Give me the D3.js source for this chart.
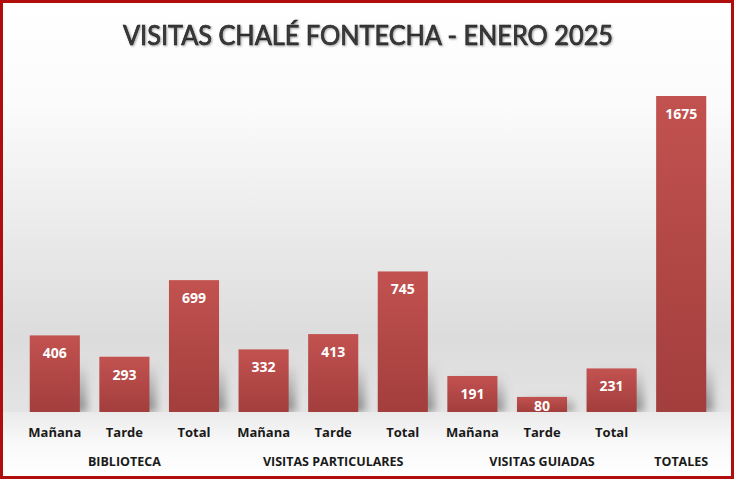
<!DOCTYPE html>
<html lang="es">
<head>
  <meta charset="UTF-8">
  <title>Visitas Chalé Fontecha - Enero 2025</title>
  <script src="https://d3js.org/d3.v7.min.js"></script>
  <style>
    body { margin: 0; background: #fff; }
    svg { display: block; }
  </style>
</head>
<body>
  <div id="chart"></div>
  <script>
    // Data
    const categories = ["Mañana", "Tarde", "Total", "Mañana", "Tarde", "Total", "Mañana", "Tarde", "Total", ""];
    const groups = ["BIBLIOTECA", "VISITAS PARTICULARES", "VISITAS GUIADAS", "TOTALES"];
    const groupOf = [0, 0, 0, 1, 1, 1, 2, 2, 2, 3];
    const values = [406, 293, 699, 332, 413, 745, 191, 80, 231, 1675];
    const title = "VISITAS CHALÉ FONTECHA - ENERO 2025";

    const W = 737, H = 482;
    const baseY = 412;

    const svg = d3.select("#chart").append("svg")
      .attr("width", W)
      .attr("height", H);

    const defs = svg.append("defs");

    // background gradient (wall)
    const wall = defs.append("linearGradient").attr("id", "wall")
      .attr("x1", 0).attr("y1", 0).attr("x2", 0).attr("y2", 1);
    wall.append("stop").attr("offset", "0%").attr("stop-color", "#ffffff");
    wall.append("stop").attr("offset", "25%").attr("stop-color", "#fbfbfb");
    wall.append("stop").attr("offset", "82%").attr("stop-color", "#dcdcdc");
    wall.append("stop").attr("offset", "100%").attr("stop-color", "#e4e4e4");

    // floor gradient
    const floor = defs.append("linearGradient").attr("id", "floor")
      .attr("x1", 0).attr("y1", 0).attr("x2", 0).attr("y2", 1);
    floor.append("stop").attr("offset", "0%").attr("stop-color", "#eaeaea");
    floor.append("stop").attr("offset", "45%").attr("stop-color", "#f8f8f8");
    floor.append("stop").attr("offset", "100%").attr("stop-color", "#ffffff");

    // bar gradient
    const barGrad = defs.append("linearGradient").attr("id", "barGrad")
      .attr("x1", 0).attr("y1", 0).attr("x2", 0).attr("y2", 1);
    barGrad.append("stop").attr("offset", "0%").attr("stop-color", "#c25250");
    barGrad.append("stop").attr("offset", "100%").attr("stop-color", "#a23e3c");

    // shadow fading upward
    const shadowGrad = defs.append("linearGradient").attr("id", "shadowGrad")
      .attr("x1", 0).attr("y1", 0).attr("x2", 0).attr("y2", 1);
    shadowGrad.append("stop").attr("offset", "0%").attr("stop-color", "#666").attr("stop-opacity", 0);
    shadowGrad.append("stop").attr("offset", "100%").attr("stop-color", "#666").attr("stop-opacity", 0.75);

    const blur = defs.append("filter").attr("id", "blur")
      .attr("x", "-50%").attr("y", "-50%").attr("width", "200%").attr("height", "200%");
    blur.append("feGaussianBlur").attr("stdDeviation", 4);

    const titleGlow = defs.append("filter").attr("id", "titleGlow");
    titleGlow.append("feDropShadow")
      .attr("dx", 1).attr("dy", 1).attr("stdDeviation", 0.8)
      .attr("flood-color", "#777").attr("flood-opacity", 0.7);

    // backgrounds
    svg.append("rect")
      .attr("x", 3).attr("y", 3).attr("width", 729).attr("height", baseY - 3)
      .attr("fill", "url(#wall)");
    svg.append("rect")
      .attr("x", 3).attr("y", baseY).attr("width", 729).attr("height", 476 - baseY)
      .attr("fill", "url(#floor)");

    // scales
    const x = d3.scaleBand()
      .domain(d3.range(values.length))
      .range([20, 716])
      .paddingInner(0.28)
      .paddingOuter(0.14);

    const y = d3.scaleLinear()
      .domain([0, 1800])
      .range([baseY, baseY - 1800 * (316 / 1675)]);

    // soft shadows behind bars, lower part only
    svg.append("g").selectAll("rect")
      .data(values)
      .enter().append("rect")
      .attr("x", (d, i) => x(i) + 7)
      .attr("y", d => Math.max(y(d), baseY - 50))
      .attr("width", x.bandwidth())
      .attr("height", d => baseY - Math.max(y(d), baseY - 50))
      .attr("fill", "url(#shadowGrad)")
      .attr("filter", "url(#blur)");

    // bars
    svg.append("g").selectAll("rect")
      .data(values)
      .enter().append("rect")
      .attr("x", (d, i) => x(i))
      .attr("y", d => y(d))
      .attr("width", x.bandwidth())
      .attr("height", d => y(0) - y(d))
      .attr("fill", "url(#barGrad)");

    // redraw floor strip so the shadow does not spill below the baseline
    svg.append("rect")
      .attr("x", 3).attr("y", baseY).attr("width", 729).attr("height", 476 - baseY)
      .attr("fill", "url(#floor)");

    // value labels
    svg.append("g").selectAll("text")
      .data(values)
      .enter().append("text")
      .attr("x", (d, i) => x(i) + x.bandwidth() / 2)
      .attr("y", d => Math.min(y(d) + 23, (y(d) + y(0)) / 2 + 7))
      .attr("text-anchor", "middle")
      .attr("font-family", "'Open Sans', sans-serif")
      .attr("font-weight", 700)
      .attr("font-size", 14)
      .attr("fill", "#ffffff")
      .text(d => d);

    // category labels
    svg.append("g").selectAll("text")
      .data(categories)
      .enter().append("text")
      .attr("x", (d, i) => x(i) + x.bandwidth() / 2)
      .attr("y", 437)
      .attr("text-anchor", "middle")
      .attr("font-family", "'Open Sans', sans-serif")
      .attr("font-weight", 700)
      .attr("font-size", 13)
      .attr("fill", "#1a1a1a")
      .text(d => d);

    // group labels, centered under their bars
    svg.append("g").selectAll("text")
      .data(groups)
      .enter().append("text")
      .attr("x", (g, gi) => {
        const idx = d3.range(values.length).filter(i => groupOf[i] === gi);
        return (x(idx[0]) + x(idx[idx.length - 1]) + x.bandwidth()) / 2;
      })
      .attr("y", 466)
      .attr("text-anchor", "middle")
      .attr("font-family", "'Open Sans', sans-serif")
      .attr("font-weight", 700)
      .attr("font-size", 12.5)
      .attr("fill", "#1a1a1a")
      .text(d => d);

    // title
    svg.append("text")
      .attr("x", 368)
      .attr("y", 45)
      .attr("text-anchor", "middle")
      .attr("font-family", "Lato, 'Open Sans', sans-serif")
      .attr("font-size", 27)
      .attr("textLength", 490)
      .attr("lengthAdjust", "spacingAndGlyphs")
      .attr("fill", "#3a3a3a")
      .attr("stroke", "#1e1e1e")
      .attr("stroke-width", 0.7)
      .attr("filter", "url(#titleGlow)")
      .text(title);

    // outer border
    svg.append("rect")
      .attr("x", 1.5).attr("y", 1.5)
      .attr("width", 731).attr("height", 476)
      .attr("fill", "none")
      .attr("stroke", "#b00d0d")
      .attr("stroke-width", 3);
  </script>
</body>
</html>
